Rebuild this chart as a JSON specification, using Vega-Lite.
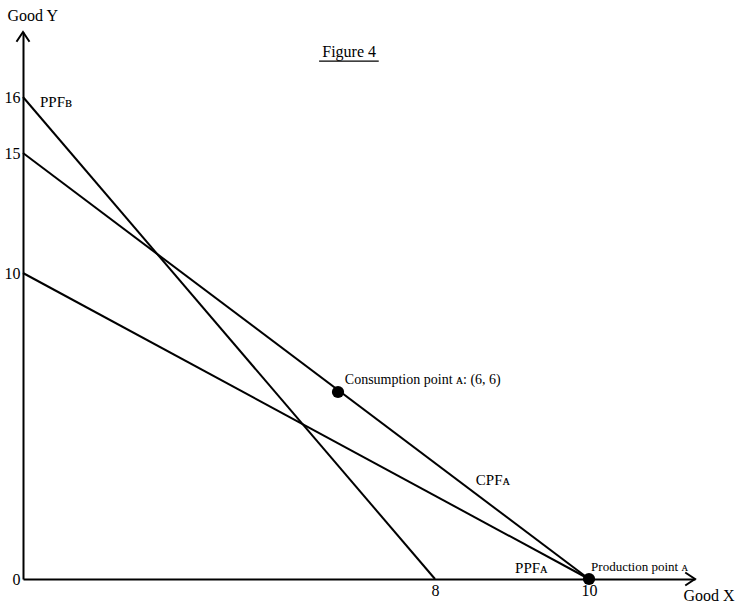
{
  "$schema": "https://vega.github.io/schema/vega-lite/v6.json",
  "autosize": "none",
  "width": 672,
  "height": 547,
  "padding": {"left": 23, "top": 32, "right": 44, "bottom": 24},
  "background": "white",
  "config": {
    "view": {"stroke": null},
    "axis": {
      "domainColor": "black",
      "domainWidth": 2,
      "ticks": false,
      "grid": false,
      "labelFont": "Liberation Serif",
      "labelFontSize": 16,
      "labelColor": "black",
      "labelPadding": 3,
      "titleFont": "Liberation Serif",
      "titleFontSize": 16,
      "titleFontWeight": "normal",
      "titleColor": "black"
    },
    "text": {"font": "Liberation Serif", "fontSize": 14, "color": "black"}
  },
  "datasets": {
    "lines": [
      {"line": "PPF_B", "x": 0, "y": 16},
      {"line": "PPF_B", "x": 8, "y": 0},
      {"line": "CPF_A", "x": 0, "y": 15},
      {"line": "CPF_A", "x": 10, "y": 0},
      {"line": "PPF_A", "x": 0, "y": 10},
      {"line": "PPF_A", "x": 10, "y": 0}
    ],
    "points": [
      {"point": "Consumption point A", "x": 6, "y": 6},
      {"point": "Production point A", "x": 10, "y": 0}
    ],
    "curveLabels": [
      {"label": "PPFʙ", "x": 0.324, "y": 15.91},
      {"label": "CPFᴀ", "x": 8.53, "y": 3.18},
      {"label": "PPFᴀ", "x": 9.04, "y": 0.35}
    ],
    "consLabel": [
      {"label": "Consumption point ᴀ: (6, 6)", "x": 6.14, "y": 6.4}
    ],
    "prodLabel": [
      {"label": "Production point ᴀ", "x": 10.03, "y": 0.385}
    ],
    "title": [{"label": "Figure 4", "x": 6.23, "y": 17.04}],
    "underline": [{"x": 5.64, "x2": 6.84, "y": 16.83}],
    "arrowY": [{"x": 0, "y": 17.5}],
    "arrowX": [{"x": 11.5, "y": 0}]
  },
  "encoding": {
    "x": {
      "field": "x", "type": "quantitative",
      "scale": {"domain": [0, 6, 8, 10, 11.5], "range": [0, 315, 412, 566, 672], "zero": false, "nice": false},
      "axis": {"values": [8, 10], "title": "Good X", "titleX": 660, "titleY": 16, "titleAlign": "left", "titleBaseline": "middle", "titleAnchor": null}
    },
    "y": {
      "field": "y", "type": "quantitative",
      "scale": {"domain": [0, 6, 10, 15, 16, 17.5], "range": [547, 360, 241, 121, 65, 0], "zero": false, "nice": false},
      "axis": {"values": [0, 10, 15, 16], "title": "Good Y", "titleAngle": 0, "titleX": -16, "titleY": -17, "titleAlign": "left", "titleBaseline": "middle"}
    }
  },
  "layer": [
    {
      "data": {"name": "lines"},
      "mark": {"type": "line", "color": "black", "strokeWidth": 2},
      "encoding": {"detail": {"field": "line"}}
    },
    {
      "data": {"name": "points"},
      "mark": {"type": "point", "shape": "circle", "filled": true, "color": "black", "size": 150, "opacity": 1}
    },
    {
      "data": {"name": "curveLabels"},
      "mark": {"type": "text", "align": "left", "baseline": "middle", "fontSize": 15},
      "encoding": {"text": {"field": "label"}}
    },
    {
      "data": {"name": "consLabel"},
      "mark": {"type": "text", "align": "left", "baseline": "middle", "fontSize": 14},
      "encoding": {"text": {"field": "label"}}
    },
    {
      "data": {"name": "prodLabel"},
      "mark": {"type": "text", "align": "left", "baseline": "middle", "fontSize": 13},
      "encoding": {"text": {"field": "label"}}
    },
    {
      "data": {"name": "title"},
      "mark": {"type": "text", "align": "center", "baseline": "middle", "fontSize": 16},
      "encoding": {"text": {"field": "label"}}
    },
    {
      "data": {"name": "underline"},
      "mark": {"type": "rule", "color": "black", "strokeWidth": 1.2},
      "encoding": {"x2": {"field": "x2"}}
    },
    {
      "data": {"name": "arrowY"},
      "mark": {"type": "point", "shape": "M-1,1.5L0,0L1,1.5", "filled": false, "color": "black", "strokeWidth": 2, "size": 169, "opacity": 1}
    },
    {
      "data": {"name": "arrowX"},
      "mark": {"type": "point", "shape": "M-1.5,-1L0,0L-1.5,1", "filled": false, "color": "black", "strokeWidth": 2, "size": 169, "opacity": 1}
    }
  ]
}
